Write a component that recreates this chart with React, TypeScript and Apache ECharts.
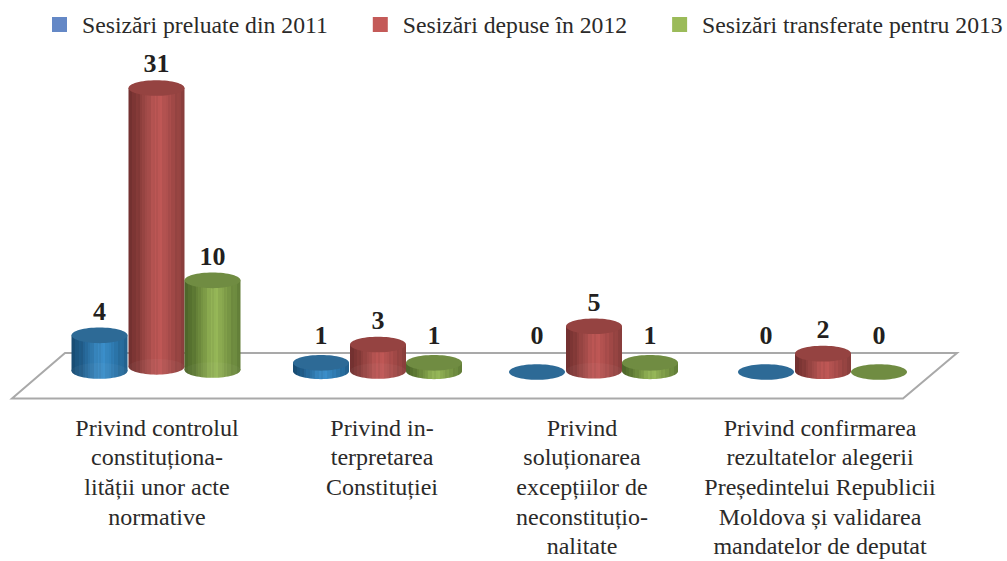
import React, { useEffect, useRef } from "react";
import * as echarts from "echarts";

const categories = [
  "Privind controlul\nconstituționa-\nlității unor acte\nnormative",
  "Privind in-\nterpretarea\nConstituției",
  "Privind\nsoluționarea\nexcepțiilor de\nneconstituțio-\nnalitate",
  "Privind confirmarea\nrezultatelor alegerii\nPreședintelui Republicii\nMoldova și validarea\nmandatelor de deputat",
];
const seriesNames = ["Sesizări preluate din 2011", "Sesizări depuse în 2012", "Sesizări transferate pentru 2013"];
const preluate = [4, 1, 0, 0];
const depuse = [31, 3, 5, 2];
const transferate = [10, 1, 1, 0];

const FONT = "'Liberation Serif', serif";
const groupNudge = [0.5, 0, -6, 1];
const seriesOffset = [-57, 0, 56];
const labelPad = [
  [0, 0, 0, 2],
  [0, 0, 0, 8],
  [0, 36, 0, 0],
  [0, 4, 0, 0],
];
const legendColors = ["#6488c6", "#c45a58", "#9bbb59"];
const palettes = [
  { top: "#2d6a96", stops: ["#174a70", "#1b5580", "#22608e", "#2a6fa2", "#3480b6", "#3a8ac2", "#388ac4", "#3180b8", "#2b74a8", "#276a9a", "#235f8a"] },
  { top: "#954341", stops: ["#723030", "#7c3533", "#8a3d3b", "#9c4745", "#ae504e", "#bb5654", "#b95452", "#ad4f4d", "#a04846", "#944341", "#873d3b"] },
  { top: "#708c42", stops: ["#4e652a", "#55702e", "#627e36", "#728f40", "#85a44c", "#93b356", "#91b154", "#84a24b", "#779544", "#6c893e", "#617c37"] },
];
const stripePattern = [1, 0.97, 1.02, 0.985, 1.015, 0.96, 1.01, 1.03, 0.98, 1];
const BANDS = 30;

function hexRgb(h: string) {
  return [1, 3, 5].map((i) => parseInt(h.slice(i, i + 2), 16));
}

function gradient(stops: string[]) {
  const colorStops: any[] = [];
  for (let b = 0; b < BANDS; b++) {
    const t = ((b + 0.5) / BANDS) * (stops.length - 1);
    const i = Math.floor(t);
    const f = t - i;
    const a = hexRgb(stops[i]);
    const c = hexRgb(stops[Math.min(i + 1, stops.length - 1)]);
    const k = stripePattern[b % stripePattern.length];
    const rgb = a.map((x, j) => Math.min(255, Math.round((x + (c[j] - x) * f) * k)));
    const color = `rgb(${rgb.join(",")})`;
    colorStops.push({ offset: b / BANDS, color }, { offset: (b + 1) / BANDS, color });
  }
  return { type: "linear", x: 0, y: 0, x2: 1, y2: 0, colorStops };
}

function makeRenderItem(seriesIdx: number) {
  const RX = 28;
  const RY = 7.8;
  const off = seriesOffset[seriesIdx];
  const pal = palettes[seriesIdx];
  const fill = gradient(pal.stops);
  return (_params: any, api: any) => {
    const cat = api.value(0);
    const v = api.value(1);
    const zero = api.coord([cat, 0]);
    const tip = api.coord([cat, v]);
    const cx = tip[0] + off + groupNudge[cat];
    const topY = tip[1];
    const baseY = zero[1] - 0.5 - v * 0.15;
    const children: any[] = [];
    if (v > 0) {
      children.push({ type: "ellipse", shape: { cx, cy: baseY, rx: RX, ry: RY }, style: { fill } });
      children.push({ type: "rect", shape: { x: cx - RX, y: topY, width: RX * 2, height: baseY - topY }, style: { fill } });
      if (baseY - topY > 20) {
        children.push({ type: "ellipse", shape: { cx, cy: baseY, rx: RX, ry: RY }, style: { fill: "rgba(255,255,255,0.035)" } });
      }
    }
    children.push({ type: "ellipse", shape: { cx, cy: topY, rx: RX, ry: RY }, style: { fill: pal.top } });
    children.push({
      type: "text",
      style: {
        x: cx,
        y: Math.min(topY - 24, 335),
        text: String(v),
        fill: "#231f20",
        font: `bold 26px ${FONT}`,
        align: "center",
        verticalAlign: "middle",
      },
    });
    return { type: "group", children };
  };
}

const option = (): any => ({
  animation: false,
  backgroundColor: "#ffffff",
  legend: {
    left: 47,
    top: 7.5,
    width: 975,
    icon: "rect",
    itemWidth: 15,
    itemHeight: 15,
    itemGap: 45,
    selectedMode: false,
    textStyle: { fontFamily: FONT, fontSize: 23.7, color: "#2b2a29", padding: [0, 0, 0, 10] },
    data: seriesNames.map((name, i) => ({ name, itemStyle: { color: legendColors[i] } })),
  },
  grid: { left: 45, width: 888, top: 51.3, height: 324.7 },
  xAxis: {
    type: "category",
    data: categories.map((value, i) => ({ value, textStyle: { padding: labelPad[i] } })),
    axisLine: { show: false },
    axisTick: { show: false },
    axisLabel: {
      interval: 0,
      margin: 41,
      fontFamily: FONT,
      fontSize: 24,
      lineHeight: 29.6,
      color: "#2b2a29",
      align: "center",
    },
  },
  yAxis: { type: "value", min: 0, max: 35, show: false, splitLine: { show: false } },
  graphic: [
    {
      type: "polygon",
      z: 0,
      shape: { points: [[12, 398.5], [903, 398.5], [957, 353], [65, 353]] },
      style: { fill: "#ffffff", stroke: "#a9a9a9", lineWidth: 2 },
    },
  ],
  series: [preluate, depuse, transferate].map((vals, i) => ({
    type: "custom",
    name: seriesNames[i],
    z: 5 + i,
    clip: false,
    itemStyle: { color: legendColors[i] },
    encode: { x: 0, y: 1 },
    renderItem: makeRenderItem(i),
    data: vals.map((v, c) => [c, v]),
  })),
});

export default function App() {
  const ref = useRef<HTMLDivElement>(null);
  useEffect(() => {
    document.body.style.margin = "0";
    const chart = echarts.init(ref.current!, undefined, { renderer: "svg" });
    chart.setOption(option());
    return () => chart.dispose();
  }, []);
  return <div ref={ref} style={{ width: 1007, height: 561 }} />;
}
